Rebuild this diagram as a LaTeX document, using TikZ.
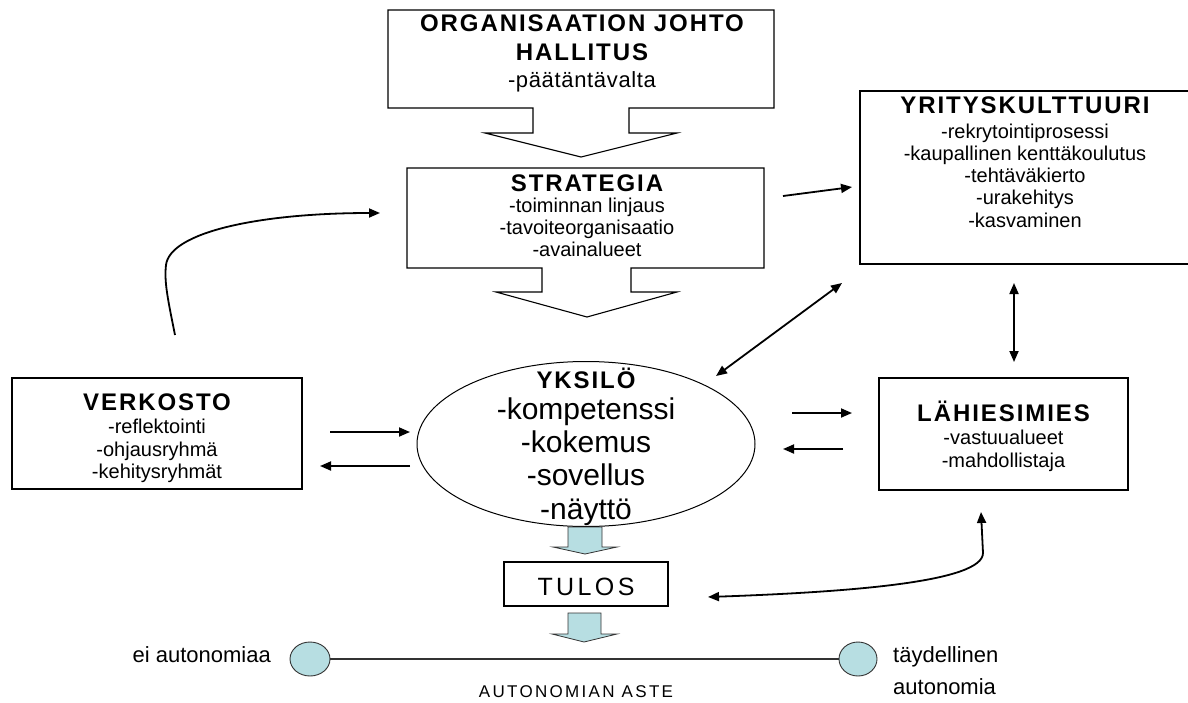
\documentclass[tikz,border=0pt]{standalone}
\usepackage{fontspec}
\setmainfont{Liberation Sans}
\newfontfamily\ttlfont[LetterSpace=8]{Liberation Sans}
\newfontfamily\wideregular[LetterSpace=13.6]{Liberation Sans}
\newfontfamily\lightspaced[LetterSpace=3]{Liberation Sans}
\usetikzlibrary{arrows.meta,shapes.geometric}
\definecolor{paleblue}{RGB}{183,222,226}

\begin{document}
\begin{tikzpicture}[x=1pt,y=-1pt,
  box/.style={draw=black, line width=1.1pt, inner sep=0pt},
  outline/.style={draw=black, line width=1.1pt, line join=miter},
  ttl/.style={inner sep=0pt, font=\ttlfont\bfseries\fontsize{24}{26}\selectfont, text height=17.2pt, text depth=0pt},
  txt/.style={inner sep=0pt, font=\fontsize{20}{22}\selectfont, text height=14.4pt, text depth=4.2pt},
  big/.style={inner sep=0pt, font=\fontsize{30}{33}\selectfont, text height=21.6pt, text depth=6.3pt},
  lbl/.style={inner sep=0pt, font=\fontsize{22}{24}\selectfont, text height=15.8pt, text depth=4.6pt},
  conn/.style={line width=1.8pt, -{Triangle[length=11pt,width=9pt]}},
  dconn/.style={line width=1.8pt, {Triangle[length=11pt,width=9pt]}-{Triangle[length=11pt,width=9pt]}},
  bluearrow/.style={fill=paleblue, draw=black!80, line width=0.8pt, line join=miter},
]
\useasboundingbox (0,0) rectangle (1188,702);

% --- top: management callout pointing down to the strategy
\node[inner sep=0pt, minimum width=386pt, minimum height=98pt] (org) at (581,59) {};
\draw[outline] (388,10) -- (774,10) -- (774,108) -- (629,108) -- (629,133) -- (677,133)
  -- (581,157) -- (485,133) -- (533,133) -- (533,108) -- (388,108) -- cycle;
\node[ttl] (orgA) at (582,23) {ORGANISAATION JOHTO};
\node[ttl] (orgB) at (582,52) {HALLITUS};
\node[txt, font=\lightspaced\fontsize{22}{24}\selectfont, text height=15.8pt, text depth=4.6pt]
  (orgC) at (582,82) {-päätäntävalta};

% --- strategy callout
\node[inner sep=0pt, minimum width=357pt, minimum height=100pt] (strat) at (585.5,218) {};
\draw[outline] (407,168) -- (764,168) -- (764,268) -- (631,268) -- (631,292) -- (677,292)
  -- (587,317) -- (496,292) -- (542,292) -- (542,268) -- (407,268) -- cycle;
\node[ttl] (stratA) at (587,183) {STRATEGIA};
\node[txt] (stratB) at (587,207) {-toiminnan linjaus};
\node[txt] (stratC) at (587,229) {-tavoiteorganisaatio};
\node[txt] (stratD) at (587,251) {-avainalueet};

% --- company culture (runs off the right edge)
\node[box, minimum width=340pt, minimum height=173pt] (kult) at (1030,177.5) {};
\node[ttl] (kultA) at (1025,105) {YRITYSKULTTUURI};
\node[txt] (kultB) at (1025,133) {-rekrytointiprosessi};
\node[txt] (kultC) at (1025,155) {-kaupallinen kenttäkoulutus};
\node[txt] (kultD) at (1025,177) {-tehtäväkierto};
\node[txt] (kultE) at (1025,199) {-urakehitys};
\node[txt] (kultF) at (1025,222) {-kasvaminen};

% --- network
\node[box, minimum width=290pt, minimum height=111pt] (verk) at (157,433.5) {};
\node[ttl] (verkA) at (157,402) {VERKOSTO};
\node[txt] (verkB) at (157,428) {-reflektointi};
\node[txt] (verkC) at (157,451) {-ohjausryhmä};
\node[txt] (verkD) at (157,473) {-kehitysryhmät};

% --- supervisor
\node[box, minimum width=249pt, minimum height=112pt] (lahi) at (1003.5,434) {};
\node[ttl] (lahiA) at (1003.5,413) {LÄHIESIMIES};
\node[txt] (lahiB) at (1003.5,439) {-vastuualueet};
\node[txt] (lahiC) at (1003.5,462) {-mahdollistaja};

% --- individual
\node[draw=black, line width=1pt, ellipse, inner sep=0pt,
      minimum width=338pt, minimum height=165pt] (yks) at (586,444) {};
\draw[bluearrow] (568,527) -- (602,527) -- (602,547) -- (617,547) -- (585,554)
  -- (553,547) -- (568,547) -- cycle;
\node[ttl] (yksA) at (586,380) {YKSILÖ};
\node[big] (yksB) at (586,412) {-kompetenssi};
\node[big] (yksC) at (586,445) {-kokemus};
\node[big] (yksD) at (586,478) {-sovellus};
\node[big] (yksE) at (586,512) {-näyttö};

% --- result
\node[box, minimum width=164pt, minimum height=44pt] (tulos) at (586,584) {};
\node[inner sep=0pt, font=\wideregular\fontsize{25}{27}\selectfont, text height=18pt, text depth=0pt]
  (tulosA) at (586,586) {TULOS};
\draw[bluearrow] (568,613) -- (601,613) -- (601,634) -- (617,634) -- (584,642)
  -- (552,634) -- (568,634) -- cycle;

% --- autonomy scale
\node[draw=black!80, line width=0.9pt, ellipse, fill=paleblue, inner sep=0pt,
      minimum width=40pt, minimum height=34pt] (lo) at (310,659) {};
\node[draw=black!80, line width=0.9pt, ellipse, fill=paleblue, inner sep=0pt,
      minimum width=38pt, minimum height=34pt] (hi) at (858,659) {};
\draw[black!80, line width=1.1pt] (lo) -- (hi);
\node[lbl, anchor=east] (loA) at (271,657) {ei autonomiaa};
\node[lbl, anchor=west] (hiA) at (893,657) {täydellinen};
\node[lbl, anchor=west] (hiB) at (893,689) {autonomia};
\node[inner sep=0pt, font=\wideregular\fontsize{17}{19}\selectfont, text height=12.2pt, text depth=0pt]
  (aste) at (576,691.5) {AUTONOMIAN ASTE};

% --- connector end points
\coordinate (sK1) at (783,196);  \coordinate (sK2) at (852,187);
\coordinate (yK1) at (716,376);  \coordinate (yK2) at (842,283);
\coordinate (kL1) at (1014,283); \coordinate (kL2) at (1014,362);
\coordinate (vY1) at (330,432);  \coordinate (vY2) at (410,432);
\coordinate (yV1) at (410,466);  \coordinate (yV2) at (320,466);
\coordinate (yL1) at (792,413);  \coordinate (yL2) at (852,413);
\coordinate (lY1) at (843,449);  \coordinate (lY2) at (783,449);
\coordinate (vS1) at (175,335);  \coordinate (vS2) at (380,213);
\coordinate (tL1) at (708,597);  \coordinate (tL2) at (981,512);

\draw[conn] (sK1) -- (sK2);
\draw[dconn] (yK1) -- (yK2);
\draw[dconn] (kL1) -- (kL2);
\draw[conn] (vY1) -- (vY2);
\draw[conn] (yV1) -- (yV2);
\draw[conn] (yL1) -- (yL2);
\draw[conn] (lY1) -- (lY2);
\draw[conn] (vS1) .. controls (168,300) and (164,282) .. (166,265)
  .. controls (170,232) and (260,213) .. (vS2);
\draw[dconn] (tL1) .. controls (850,592) and (983,582) .. (983,553) -- (tL2);
\end{tikzpicture}
\end{document}
